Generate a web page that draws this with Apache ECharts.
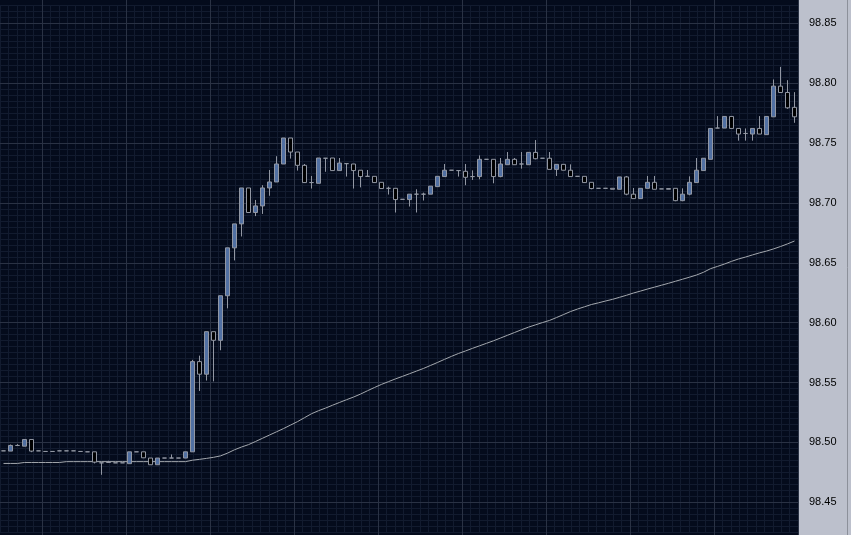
<!DOCTYPE html>
<html>
<head>
<meta charset="utf-8">
<script src="https://cdn.jsdelivr.net/npm/echarts/dist/echarts.min.js"></script>
<style>
  html, body { margin: 0; padding: 0; background: #040b1c; }
  #chart { width: 851px; height: 535px; }
</style>
</head>
<body>
<div id="chart"></div>
<script>
// candles, one per bar, left to right
const opens = [
  98.4930, 98.4928, 98.4975, 98.4969, 98.5025, 98.4930, 98.4925, 98.4925, 98.4930, 98.4930,
  98.4930, 98.4925, 98.4922, 98.4922, 98.4830, 98.4833, 98.4830, 98.4830, 98.4823, 98.4922,
  98.4922, 98.4870, 98.4814, 98.4870, 98.4870, 98.4870, 98.4870, 98.4922, 98.5675, 98.5570,
  98.5925, 98.5853, 98.6225, 98.6625, 98.6825, 98.7125, 98.6920, 98.6975, 98.7125, 98.7175,
  98.7325, 98.7542, 98.7425, 98.7314, 98.7170, 98.7164, 98.7373, 98.7375, 98.7270, 98.7328,
  98.7325, 98.7273, 98.7222, 98.7222, 98.7172, 98.7122, 98.7122, 98.7030, 98.7028, 98.7073,
  98.7073, 98.7073, 98.7136, 98.7220, 98.7273, 98.7270, 98.7264, 98.7220, 98.7220, 98.7364,
  98.7364, 98.7220, 98.7319, 98.7364, 98.7325, 98.7319, 98.7422, 98.7373, 98.7373, 98.7280,
  98.7322, 98.7273, 98.7222, 98.7222, 98.7172, 98.7122, 98.7122, 98.7122, 98.7114, 98.7217,
  98.7073, 98.7036, 98.7122, 98.7172, 98.7117, 98.7120, 98.7122, 98.7019, 98.7073, 98.7170,
  98.7270, 98.7364, 98.7625, 98.7625, 98.7722, 98.7622, 98.7580, 98.7575, 98.7622, 98.7570,
  98.7719, 98.7975, 98.7922, 98.7798
];
const closes = [
  98.4930, 98.4975, 98.4975, 98.5025, 98.4928, 98.4930, 98.4925, 98.4925, 98.4930, 98.4930,
  98.4930, 98.4925, 98.4922, 98.4836, 98.4830, 98.4833, 98.4830, 98.4830, 98.4922, 98.4922,
  98.4872, 98.4814, 98.4870, 98.4870, 98.4870, 98.4870, 98.4922, 98.5675, 98.5570, 98.5925,
  98.5853, 98.6225, 98.6625, 98.6825, 98.7125, 98.6920, 98.6975, 98.7125, 98.7175, 98.7325,
  98.7542, 98.7425, 98.7314, 98.7170, 98.7170, 98.7375, 98.7373, 98.7270, 98.7333, 98.7328,
  98.7270, 98.7220, 98.7222, 98.7170, 98.7120, 98.7122, 98.7028, 98.7030, 98.7073, 98.7073,
  98.7073, 98.7140, 98.7222, 98.7273, 98.7273, 98.7270, 98.7214, 98.7220, 98.7364, 98.7364,
  98.7220, 98.7325, 98.7364, 98.7319, 98.7325, 98.7422, 98.7369, 98.7373, 98.7280, 98.7322,
  98.7273, 98.7220, 98.7222, 98.7170, 98.7120, 98.7122, 98.7122, 98.7114, 98.7217, 98.7073,
  98.7036, 98.7122, 98.7172, 98.7114, 98.7117, 98.7114, 98.7019, 98.7073, 98.7172, 98.7273,
  98.7373, 98.7622, 98.7625, 98.7722, 98.7622, 98.7575, 98.7580, 98.7622, 98.7575, 98.7722,
  98.7975, 98.7922, 98.7794, 98.7719
];
const lows = [
  98.4930, 98.4928, 98.4975, 98.4969, 98.4919, 98.4930, 98.4925, 98.4925, 98.4930, 98.4930,
  98.4930, 98.4925, 98.4922, 98.4825, 98.4730, 98.4833, 98.4830, 98.4830, 98.4823, 98.4922,
  98.4872, 98.4814, 98.4814, 98.4870, 98.4870, 98.4870, 98.4870, 98.4922, 98.5430, 98.5517,
  98.5510, 98.5770, 98.6120, 98.6520, 98.6720, 98.6920, 98.6890, 98.6908, 98.7060, 98.7175,
  98.7325, 98.7370, 98.7270, 98.7170, 98.7120, 98.7164, 98.7260, 98.7270, 98.7270, 98.7220,
  98.7120, 98.7130, 98.7222, 98.7170, 98.7120, 98.7070, 98.6920, 98.7030, 98.6970, 98.6920,
  98.7020, 98.7073, 98.7136, 98.7220, 98.7273, 98.7220, 98.7148, 98.7192, 98.7197, 98.7364,
  98.7164, 98.7214, 98.7319, 98.7319, 98.7286, 98.7319, 98.7364, 98.7373, 98.7280, 98.7225,
  98.7273, 98.7220, 98.7222, 98.7170, 98.7114, 98.7122, 98.7122, 98.7114, 98.7114, 98.7064,
  98.7036, 98.7036, 98.7122, 98.7114, 98.7117, 98.7114, 98.7014, 98.7014, 98.7064, 98.7170,
  98.7270, 98.7364, 98.7625, 98.7625, 98.7622, 98.7520, 98.7520, 98.7520, 98.7575, 98.7570,
  98.7719, 98.7922, 98.7786, 98.7669
];
const highs = [
  98.4930, 98.4983, 98.4986, 98.5025, 98.5025, 98.4930, 98.4925, 98.4925, 98.4930, 98.4930,
  98.4930, 98.4925, 98.4922, 98.4922, 98.4830, 98.4847, 98.4830, 98.4830, 98.4922, 98.4922,
  98.4922, 98.4870, 98.4870, 98.4870, 98.4900, 98.4870, 98.4922, 98.5690, 98.5725, 98.5925,
  98.5925, 98.6225, 98.6625, 98.6825, 98.7125, 98.7125, 98.7025, 98.7148, 98.7275, 98.7390,
  98.7542, 98.7542, 98.7425, 98.7325, 98.7225, 98.7375, 98.7373, 98.7375, 98.7375, 98.7328,
  98.7325, 98.7273, 98.7275, 98.7222, 98.7172, 98.7136, 98.7122, 98.7030, 98.7073, 98.7114,
  98.7086, 98.7140, 98.7222, 98.7325, 98.7273, 98.7270, 98.7325, 98.7272, 98.7397, 98.7364,
  98.7364, 98.7375, 98.7425, 98.7375, 98.7425, 98.7422, 98.7525, 98.7373, 98.7425, 98.7322,
  98.7322, 98.7322, 98.7222, 98.7222, 98.7172, 98.7122, 98.7122, 98.7122, 98.7217, 98.7225,
  98.7125, 98.7122, 98.7225, 98.7225, 98.7117, 98.7120, 98.7122, 98.7122, 98.7222, 98.7375,
  98.7375, 98.7622, 98.7725, 98.7722, 98.7722, 98.7622, 98.7622, 98.7622, 98.7725, 98.7722,
  98.8031, 98.8136, 98.8025, 98.7925
];
// moving average line at each bar
const maLine = [
  98.4825, 98.4825, 98.4825, 98.4833, 98.4833, 98.4833, 98.4833, 98.4833, 98.4833, 98.4840,
  98.4840, 98.4840, 98.4840, 98.4840, 98.4840, 98.4840, 98.4840, 98.4840, 98.4840, 98.4840,
  98.4840, 98.4840, 98.4840, 98.4840, 98.4840, 98.4840, 98.4840, 98.4852, 98.4859, 98.4867,
  98.4876, 98.4888, 98.4911, 98.4939, 98.4962, 98.4982, 98.5008, 98.5035, 98.5062, 98.5089,
  98.5116, 98.5145, 98.5174, 98.5207, 98.5240, 98.5265, 98.5287, 98.5311, 98.5334, 98.5357,
  98.5379, 98.5404, 98.5432, 98.5459, 98.5485, 98.5508, 98.5531, 98.5552, 98.5574, 98.5596,
  98.5618, 98.5643, 98.5668, 98.5694, 98.5719, 98.5743, 98.5764, 98.5786, 98.5807, 98.5828,
  98.5849, 98.5872, 98.5895, 98.5918, 98.5941, 98.5963, 98.5982, 98.6001, 98.6019, 98.6043,
  98.6068, 98.6093, 98.6114, 98.6133, 98.6152, 98.6166, 98.6181, 98.6195, 98.6212, 98.6229,
  98.6248, 98.6264, 98.6281, 98.6297, 98.6313, 98.6329, 98.6346, 98.6363, 98.6380, 98.6398,
  98.6421, 98.6451, 98.6470, 98.6490, 98.6512, 98.6532, 98.6548, 98.6566, 98.6583, 98.6598,
  98.6616, 98.6636, 98.6658, 98.6682
];
const categories = opens.map((v, i) => String(i + 1));

const minorColor = '#121b2f';
const majorColor = '#2a3244';
const wickColor = '#9297a3';

const chart = echarts.init(document.getElementById('chart'));
const candleData = opens.map((o, i) => [o, closes[i], lows[i], highs[i]]);

const option = {
  animation: false,
  backgroundColor: '#040b1c',
  graphic: [
    // price axis panel on the right
    { type: 'rect', z: -10, silent: true, shape: { x: 798, y: 0, width: 53, height: 535 }, style: { fill: '#bcc0cc' } },
    { type: 'line', z: -9, silent: true, shape: { x1: 798.5, y1: 0, x2: 798.5, y2: 535 }, style: { stroke: '#6c7486', lineWidth: 1 } },
    { type: 'line', z: -9, silent: true, shape: { x1: 847.5, y1: 0, x2: 847.5, y2: 535 }, style: { stroke: '#8c909a', lineWidth: 1 } }
  ],
  grid: [
    // main plot with the fine grid
    { left: 0, right: 53, top: 5.3, bottom: 2.7 },
    // heavier horizontal lines every 0.05
    { left: 0, right: 53, top: 23.3, bottom: 32.7 },
    // heavier vertical lines every 12 bars
    { left: 42, right: 53, top: 0, bottom: 0 }
  ],
  xAxis: [
    { type: 'category', gridIndex: 0, data: categories, boundaryGap: true, show: false },
    {
      type: 'value', gridIndex: 0, position: 'top', min: 0, max: 114, interval: 1.2,
      axisLine: { show: false }, axisTick: { show: false }, axisLabel: { show: false },
      splitLine: { show: true, lineStyle: { color: minorColor, width: 1 } }
    },
    { type: 'value', gridIndex: 1, min: 0, max: 1, show: false },
    {
      type: 'value', gridIndex: 2, min: 6, max: 114, interval: 12, z: 1,
      axisLine: { show: false }, axisTick: { show: false }, axisLabel: { show: false },
      splitLine: { show: true, lineStyle: { color: majorColor, width: 1 } }
    }
  ],
  yAxis: [
    {
      type: 'value', gridIndex: 0, position: 'right', min: 98.425, max: 98.865, interval: 0.005,
      axisLine: { show: false }, axisTick: { show: false }, axisLabel: { show: false },
      splitLine: { show: true, lineStyle: { color: minorColor, width: 1 } }
    },
    {
      type: 'value', gridIndex: 1, position: 'right', min: 98.45, max: 98.85, interval: 0.05, z: 1,
      axisLine: { show: false }, axisTick: { show: false },
      axisLabel: {
        margin: 11, color: '#000', fontFamily: 'Liberation Sans', fontSize: 11,
        formatter: function (v) { return v.toFixed(2); }
      },
      splitLine: { show: true, lineStyle: { color: majorColor, width: 1 } }
    },
    { type: 'value', gridIndex: 2, min: 0, max: 1, show: false }
  ],
  series: [
    {
      type: 'line',
      xAxisIndex: 0,
      yAxisIndex: 0,
      data: maLine,
      symbol: 'none',
      silent: true,
      z: 3,
      lineStyle: { color: '#a4a8ae', width: 1 }
    },
    {
      type: 'candlestick',
      xAxisIndex: 0,
      yAxisIndex: 0,
      data: candleData,
      barWidth: 4,
      silent: true,
      z: 4,
      itemStyle: {
        color: '#5170a3',
        color0: '#000000',
        borderColor: wickColor,
        borderColor0: wickColor,
        borderColorDoji: wickColor,
        borderWidth: 1
      }
    }
  ]
};

chart.setOption(option);
window.addEventListener('resize', function () {
  chart.resize();
});
</script>
</body>
</html>
